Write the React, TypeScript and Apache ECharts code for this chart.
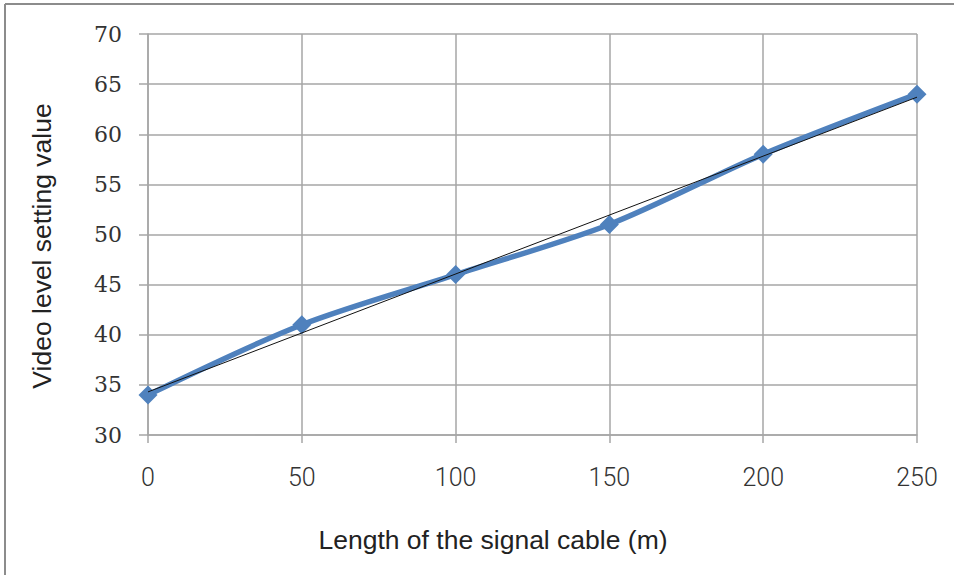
import React, { useEffect, useRef } from "react";
import * as echarts from "echarts";

const cableLength = [0, 50, 100, 150, 200, 250];
const videoLevel = [34, 41, 46, 51, 58, 64];
const trendX = [0, 250];
const trendY = [34.3, 63.7];
const xTitle = "Length of the signal cable (m)";
const yTitle = "Video level setting value";

export default function App() {
  const ref = useRef<HTMLDivElement>(null);
  useEffect(() => {
    const chart = echarts.init(ref.current!, null, { renderer: "svg" });
    const gridColor = "#a6a6a6";
    chart.setOption({
      animation: false,
      backgroundColor: "#ffffff",
      grid: { left: 148, right: 37, top: 34, bottom: 140 },
      xAxis: {
        type: "value",
        min: 0,
        max: 250,
        interval: 50,
        axisLine: { show: true, lineStyle: { color: gridColor, width: 1.5 } },
        axisTick: { show: true, length: 8, lineStyle: { color: gridColor, width: 1.5 } },
        splitLine: { show: true, lineStyle: { color: gridColor, width: 1.5 } },
        axisLabel: {
          margin: 30,
          fontFamily: "Roboto",
          fontSize: 25,
          fontWeight: 300,
          color: "#333",
        },
      },
      yAxis: {
        type: "value",
        min: 30,
        max: 70,
        interval: 5,
        axisLine: { show: true, lineStyle: { color: gridColor, width: 1.5 } },
        axisTick: { show: true, length: 9, lineStyle: { color: gridColor, width: 1.5 } },
        splitLine: { show: true, lineStyle: { color: gridColor, width: 1.5 } },
        axisLabel: {
          margin: 26,
          fontFamily: "DejaVu Serif",
          fontSize: 22,
          color: "#333",
        },
      },
      graphic: [
        { type: "line", shape: { x1: 5, y1: 4, x2: 954, y2: 4 }, style: { stroke: "#8c8c8c", lineWidth: 2 } },
        { type: "line", shape: { x1: 5, y1: 4, x2: 5, y2: 575 }, style: { stroke: "#8c8c8c", lineWidth: 2 } },
        {
          type: "text",
          x: 493,
          y: 540,
          style: {
            text: xTitle,
            fontFamily: "Liberation Sans",
            fontSize: 26.5,
            fill: "#222",
            align: "center",
            verticalAlign: "middle",
          },
        },
        {
          type: "text",
          x: 42,
          y: 246,
          rotation: Math.PI / 2,
          style: {
            text: yTitle,
            fontFamily: "Liberation Sans",
            fontSize: 26.5,
            fill: "#222",
            align: "center",
            verticalAlign: "middle",
          },
        },
      ],
      series: [
        {
          type: "line",
          data: cableLength.map((x, i) => [x, videoLevel[i]]),
          smooth: 0.3,
          symbol: "diamond",
          symbolSize: 19,
          lineStyle: { color: "#4f81bd", width: 5.5 },
          itemStyle: { color: "#4f81bd" },
          z: 3,
        },
        {
          type: "line",
          data: trendX.map((x, i) => [x, trendY[i]]),
          symbol: "none",
          lineStyle: { color: "#111", width: 1 },
          z: 4,
        },
      ],
    });
    return () => chart.dispose();
  }, []);
  return (
    <div
      ref={ref}
      style={{ position: "fixed", left: 0, top: 0, width: 954, height: 575 }}
    />
  );
}
